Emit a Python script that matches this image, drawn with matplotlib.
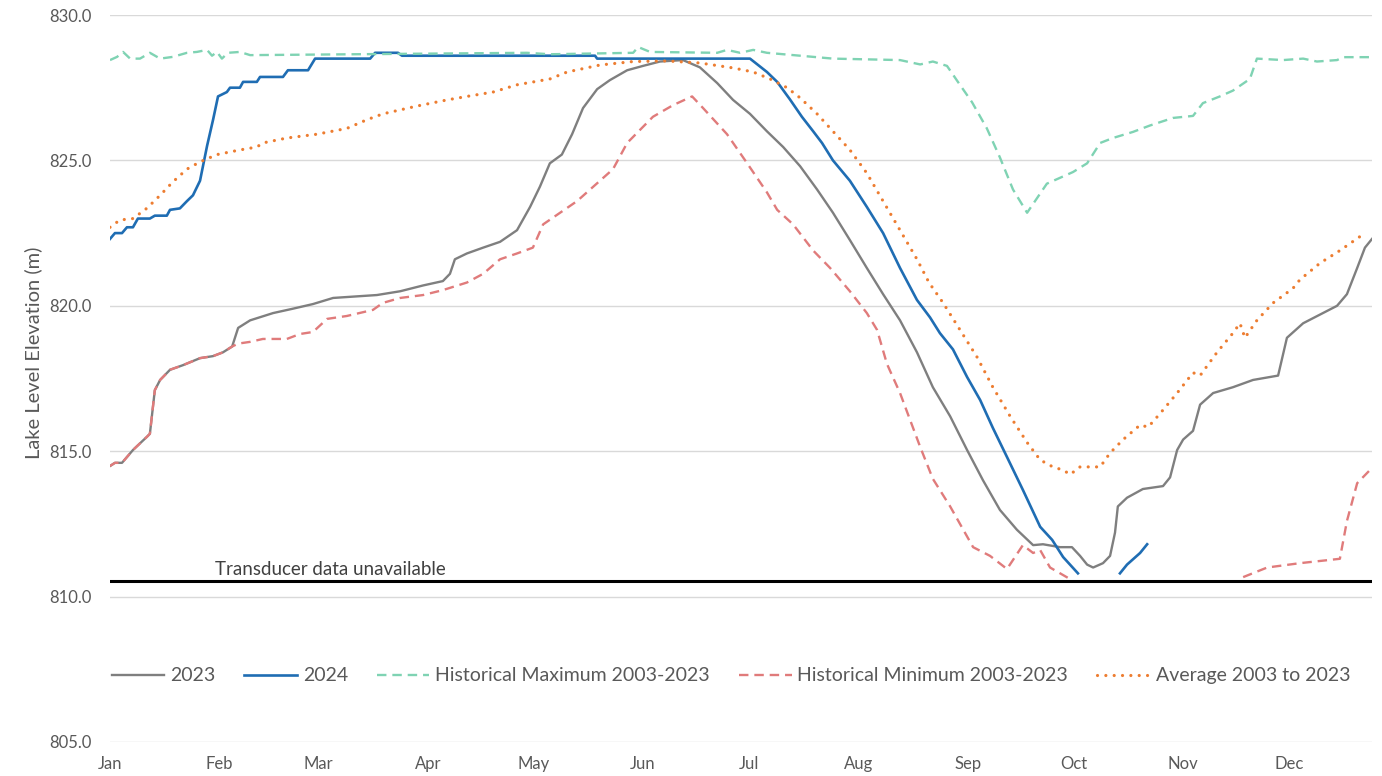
import numpy as np
import matplotlib
matplotlib.use("Agg")
import matplotlib.pyplot as plt

plt.rcParams['font.family'] = ['Lato', 'DejaVu Sans']

# day of year (0 = Jan 1) and lake level (m)
days_2023 = [0, 1.4, 3.4, 6.5, 10.5, 11.3, 12.7, 14.2, 17.0, 20.7, 25.5, 29.2, 32.0, 34.6,
             36.3, 39.7, 46.2, 51.8, 57.5, 63.2, 75.6, 82.2, 88.7, 94.3, 96.3, 97.7, 101.1,
             105.7, 110.5, 115.3, 119.0, 121.8, 124.6, 128.0, 130.9, 134.0, 138.0, 141.6,
             146.5, 151.0, 155.8, 162.3, 167.1, 172.0, 176.5, 181.3, 186.1, 190.7, 195.5,
             200.3, 204.8, 209.6, 214.4, 219.0, 223.8, 228.6, 233.1, 238.0, 242.8, 247.3,
             252.1, 256.9, 261.5, 264.3, 269.1, 272.5, 274.8, 276.8, 278.5, 281.3, 283.3,
             284.7, 285.5, 288.1, 292.6, 298.3, 300.3, 302.3, 304.0, 306.8, 308.8, 312.5,
             318.1, 323.8, 330.9, 333.4, 338.0, 342.8, 347.6, 350.4, 353.3, 355.5, 357.5]
level_2023 = [814.49, 814.6, 814.6, 815.04, 815.5, 815.6, 817.1, 817.45, 817.8, 817.96, 818.2,
              818.27, 818.4, 818.6, 819.24, 819.5, 819.75, 819.9, 820.06, 820.27, 820.37,
              820.5, 820.7, 820.85, 821.1, 821.6, 821.8, 822.0, 822.2, 822.6, 823.4, 824.1,
              824.9, 825.2, 825.9, 826.8, 827.45, 827.76, 828.1, 828.25, 828.4, 828.45,
              828.2, 827.66, 827.08, 826.6, 826.0, 825.46, 824.8, 824.0, 823.2, 822.26,
              821.3, 820.4, 819.5, 818.4, 817.2, 816.2, 815.04, 814.0, 812.98, 812.3,
              811.77, 811.8, 811.7, 811.7, 811.4, 811.1, 811.0, 811.15, 811.4, 812.2,
              813.1, 813.4, 813.7, 813.8, 814.1, 815.04, 815.4, 815.7, 816.6, 817.0,
              817.2, 817.45, 817.6, 818.9, 819.4, 819.7, 820.0, 820.4, 821.3, 822.0, 822.3]

days_2024 = [0, 1.4, 3.4, 4.8, 6.5, 7.9, 11.3, 12.7, 16.1, 17.0, 19.8, 21.8, 23.5, 25.5,
             27.5, 29.2, 30.6, 33.1, 34.0, 36.8, 37.7, 41.6, 42.5, 49.0, 50.4, 56.1, 58.1,
             73.7, 75.1, 81.6, 82.7, 137.4, 138.0, 181.3, 186.1, 189.0, 192.6, 196.0,
             199.2, 201.7, 204.8, 209.6, 214.4, 219.0, 223.8, 228.6, 232.3, 235.1, 238.8,
             242.8, 246.5, 250.1, 254.1, 258.6, 263.5, 266.9, 270.0, 274.2, np.nan,
             286.1, 288.1, 291.8, 293.8]
level_2024 = [822.3, 822.5, 822.5, 822.7, 822.7, 823.0, 823.0, 823.1, 823.1, 823.3, 823.35,
              823.6, 823.8, 824.3, 825.5, 826.4, 827.2, 827.35, 827.5, 827.5, 827.7, 827.7,
              827.87, 827.87, 828.1, 828.1, 828.5, 828.5, 828.7, 828.7, 828.6, 828.6,
              828.5, 828.5, 828.04, 827.7, 827.1, 826.5, 826.0, 825.6, 825.0, 824.3,
              823.4, 822.5, 821.3, 820.2, 819.6, 819.06, 818.5, 817.55, 816.76, 815.8,
              814.8, 813.67, 812.4, 811.95, 811.36, 810.8, np.nan,
              810.8, 811.1, 811.5, 811.8]

days_max = [0, 2.0, 3.7, 5.7, 8.5, 11.3, 14.2, 17.8, 21.8, 24.6, 27.5, 28.9, 30.3, 31.7,
            33.4, 36.8, 39.7, 118.1, 124.6, 148.2, 149.6, 153.0, 172.0, 174.8, 178.5,
            182.2, 186.1, 195.5, 204.8, 223.8, 229.5, 233.1, 237.1, 240.2, 244.2, 248.4,
            252.1, 255.8, 259.8, 262.6, 265.4, 269.1, 272.8, 276.8, 280.5, 284.1, 289.8,
            294.6, 301.1, 306.8, 309.6, 314.4, 318.1, 322.9, 324.9, 332.3, 338.0, 341.9,
            347.6, 349.3, 357.8]
level_max = [828.45, 828.56, 828.73, 828.5, 828.5, 828.7, 828.5, 828.56, 828.7, 828.73,
             828.8, 828.6, 828.73, 828.5, 828.7, 828.73, 828.62, 828.7, 828.65, 828.7,
             828.9, 828.73, 828.7, 828.8, 828.7, 828.8, 828.7, 828.6, 828.5, 828.45,
             828.3, 828.4, 828.25, 827.7, 827.0, 826.1, 825.1, 824.0, 823.2, 823.7,
             824.2, 824.4, 824.6, 824.9, 825.6, 825.77, 825.98, 826.2, 826.46, 826.53,
             826.97, 827.2, 827.4, 827.8, 828.5, 828.45, 828.5, 828.4, 828.45, 828.55,
             828.55]

days_min = [0, 1.4, 3.4, 6.5, 10.5, 11.3, 12.7, 14.2, 17.0, 20.7, 25.5, 29.2, 32.0, 34.6,
            36.3, 39.7, 43.3, 50.1, 53.8, 57.5, 61.5, 67.1, 74.5, 77.3, 82.2, 88.7, 94.3,
            101.1, 105.7, 110.5, 115.3, 119.8, 122.7, 132.3, 142.5, 146.5, 153.8, 159.5,
            164.9, 168.0, 174.8, 180.5, 186.1, 189.0, 193.5, 199.2, 204.0, 209.6, 214.4,
            217.3, 220.1, 223.8, 229.5, 233.1, 238.0, 244.5, 249.3, 254.1, 258.6, 261.5,
            263.5, 266.3, 272.0, np.nan, 321.0, 327.8, 337.1, 348.4, 350.4, 353.3, 356.9]
level_min = [814.49, 814.6, 814.6, 815.04, 815.5, 815.6, 817.1, 817.45, 817.8, 817.96,
             818.2, 818.27, 818.4, 818.6, 818.7, 818.76, 818.86, 818.86, 819.03, 819.1,
             819.55, 819.65, 819.86, 820.1, 820.27, 820.37, 820.54, 820.8, 821.1, 821.6,
             821.8, 822.0, 822.8, 823.6, 824.7, 825.6, 826.5, 826.9, 827.2, 826.8, 825.9,
             824.9, 823.9, 823.3, 822.8, 821.9, 821.3, 820.5, 819.75, 819.17, 818.0,
             817.0, 815.15, 814.05, 813.1, 811.7, 811.4, 810.95, 811.77, 811.5, 811.6,
             811.0, 810.6, np.nan, 810.67, 811.0, 811.15, 811.3, 812.6, 813.9, 814.35]

days_avg = [0, 2.8, 6.5, 10.5, 14.2, 17.8, 21.8, 25.5, 30.3, 36.8, 41.6, 43.3, 50.1, 58.6,
            67.1, 72.8, 77.3, 87.0, 95.5, 101.1, 108.5, 115.3, 124.6, 129.5, 138.8, 148.2,
            157.8, 167.1, 176.5, 182.2, 187.0, 191.8, 195.5, 200.3, 204.8, 209.6, 214.4,
            219.0, 223.8, 228.6, 232.0, 236.0, 240.8, 245.6, 250.1, 255.0, 259.8, 263.5,
            267.1, 270.0, 272.0, 274.8, 280.5, 283.3, 287.0, 291.8, 294.1, 297.5, 302.3,
            306.8, 308.8, 313.6, 318.1, 320.1, 321.5, 324.9, 329.5, 335.1, 337.1, 342.8,
            348.4, 355.5]
level_avg = [822.7, 822.95, 823.0, 823.36, 823.8, 824.26, 824.7, 824.95, 825.2, 825.36,
             825.46, 825.6, 825.77, 825.9, 826.1, 826.4, 826.6, 826.87, 827.08, 827.2,
             827.35, 827.6, 827.8, 828.04, 828.28, 828.4, 828.42, 828.35, 828.18, 828.04,
             827.8, 827.5, 827.15, 826.6, 826.0, 825.36, 824.56, 823.6, 822.6, 821.6,
             820.8, 820.1, 819.17, 818.24, 817.2, 816.2, 815.3, 814.7, 814.46, 814.35,
             814.2, 814.46, 814.46, 814.94, 815.4, 815.9, 815.83, 816.3, 817.0, 817.7,
             817.6, 818.4, 819.06, 819.4, 818.9, 819.5, 820.1, 820.6, 820.9, 821.47,
             821.9, 822.5]

transducer_limit = 810.54
month_starts = [0, 31, 59, 90, 120, 151, 181, 212, 243, 273, 304, 334]
month_labels = ['Jan', 'Feb', 'Mar', 'Apr', 'May', 'Jun',
                'Jul', 'Aug', 'Sep', 'Oct', 'Nov', 'Dec']

fig = plt.figure(figsize=(13.82, 7.76), dpi=100)
ax = fig.add_axes([110 / 1382, 1 - 742 / 776, 1262 / 1382, 727 / 776])

ax.plot(days_2023, level_2023, color='#7f7f7f', lw=1.7, label='2023')
ax.plot(days_2024, level_2024, color='#1f6db3', lw=1.9, label='2024')
ax.plot(days_max, level_max, color='#7fd3b3', lw=1.7, ls=(0, (4, 2.5)),
        label='Historical Maximum 2003-2023')
ax.plot(days_min, level_min, color='#e07b7b', lw=1.7, ls=(0, (4, 2.5)),
        label='Historical Minimum 2003-2023')
ax.plot(days_avg, level_avg, color='#ed7d31', lw=2.3, ls=(0, (0.01, 2.6)),
        dash_capstyle='round', label='Average 2003 to 2023')

ax.axhline(transducer_limit, color='black', lw=2.2, zorder=1)
ax.text(29.7, transducer_limit + 0.1, 'Transducer data unavailable',
        fontsize=13.5, color='#404040', va='bottom', ha='left')

ax.set_xlim(0, 357.5)
ax.set_ylim(805, 830)
ax.set_yticks(np.arange(805, 831, 5))
ax.set_yticklabels(['%.1f' % v for v in np.arange(805, 831, 5)])
ax.set_xticks(month_starts)
ax.set_xticklabels(month_labels)
ax.grid(axis='y', color='#d9d9d9', lw=1)
ax.set_axisbelow(True)
for s in ax.spines.values():
    s.set_visible(False)
ax.tick_params(axis='both', length=0, labelsize=12, labelcolor='#595959')
ax.tick_params(axis='x', pad=10)
ax.tick_params(axis='y', pad=13)

ax.set_ylabel('Lake Level Elevation (m)', fontsize=14.5, color='#595959')
ax.yaxis.set_label_coords(-0.054, 0.535)

ax.legend(loc='center', bbox_to_anchor=(0.492, 0.091), ncol=5, frameon=False,
          fontsize=14, labelcolor='#595959', handlelength=2.7, handletextpad=0.3,
          columnspacing=1.5)

fig.savefig('out.png', dpi=100)
